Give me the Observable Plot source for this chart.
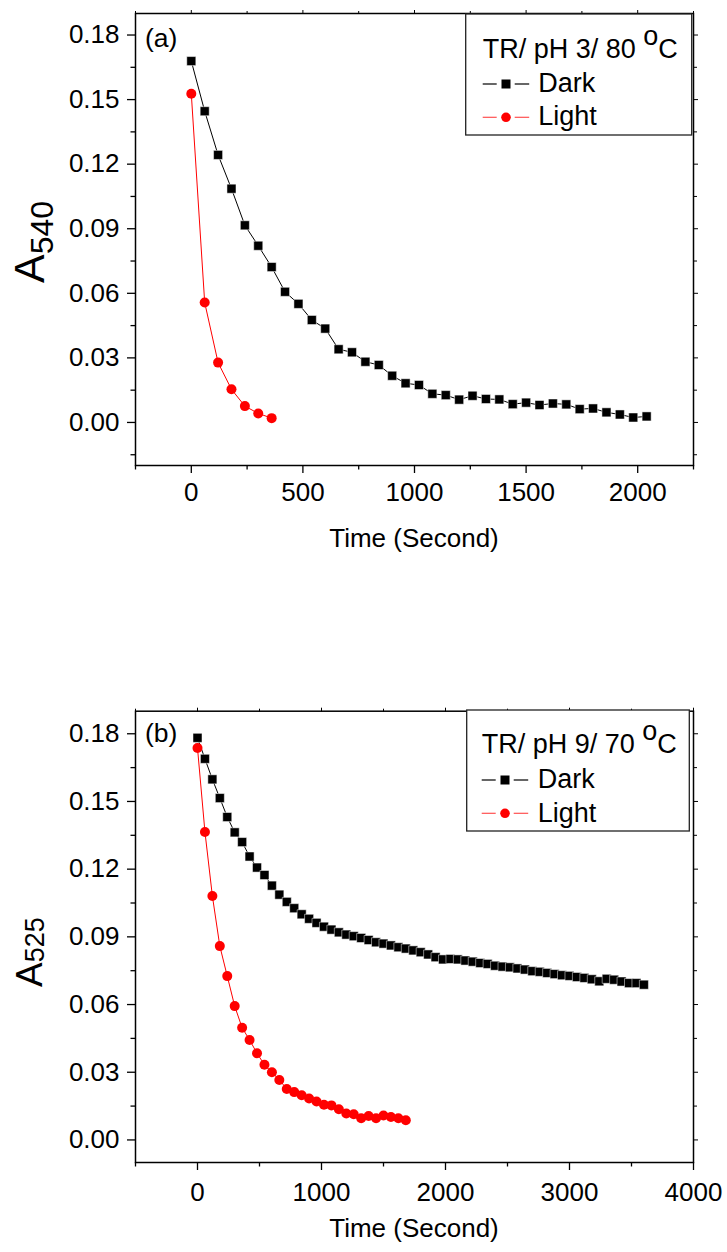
<!DOCTYPE html>
<html>
<head>
<meta charset="utf-8">
<script src="https://cdn.jsdelivr.net/npm/d3@7"></script>
<script src="https://cdn.jsdelivr.net/npm/@observablehq/plot@0.6"></script>
<style>
  html, body { margin: 0; padding: 0; background: #fff; }
  #wrap { width: 727px; height: 1252px; position: relative; }
  .panel svg { display: block; }
</style>
</head>
<body>
<div id="wrap">
  <div id="pa" class="panel"></div>
  <div id="pb" class="panel"></div>
</div>
<script>
// ---------------- Data ----------------
// Panel (a): TR / pH 3 / 80 °C, A540
const timeDarkA = [0,60,120,180,240,300,360,420,480,540,600,660,720,780,840,900,960,1020,1080,1140,1200,1260,1320,1380,1440,1500,1560,1620,1680,1740,1800,1860,1920,1980,2040];
const darkA = [0.1679,0.1446,0.1243,0.1086,0.0916,0.0821,0.0722,0.0607,0.0551,0.0476,0.0436,0.0340,0.0326,0.0282,0.0267,0.0217,0.0182,0.0174,0.0133,0.0127,0.0106,0.0124,0.0109,0.0107,0.0085,0.0092,0.0081,0.0088,0.0084,0.0062,0.0065,0.0047,0.0037,0.0023,0.0028];
const timeLightA = [0,60,120,180,240,300,360];
const lightA = [0.1527,0.0557,0.0278,0.0154,0.0076,0.0042,0.0020];

// Panel (b): TR / pH 9 / 70 °C, A525
const timeDarkB = [0,60,120,180,240,300,360,420,480,540,600,660,720,780,840,900,960,1020,1080,1140,1200,1260,1320,1380,1440,1500,1560,1620,1680,1740,1800,1860,1920,1980,2040,2100,2160,2220,2280,2340,2400,2460,2520,2580,2640,2700,2760,2820,2880,2940,3000,3060,3120,3180,3240,3300,3360,3420,3480,3540,3600];
const darkB = [0.1782,0.1689,0.1598,0.1515,0.1431,0.1363,0.1320,0.1256,0.1207,0.1174,0.1127,0.1087,0.1055,0.1027,0.1000,0.0980,0.0962,0.0945,0.0932,0.0920,0.0910,0.0903,0.0895,0.0886,0.0876,0.0870,0.0862,0.0854,0.0848,0.0840,0.0832,0.0822,0.0810,0.0800,0.0802,0.0800,0.0795,0.0790,0.0784,0.0780,0.0772,0.0768,0.0765,0.0760,0.0755,0.0748,0.0745,0.0740,0.0735,0.0730,0.0727,0.0722,0.0718,0.0712,0.0703,0.0714,0.0710,0.0702,0.0695,0.0695,0.0688];
const timeLightB = [0,60,120,180,240,300,360,420,480,540,600,660,720,780,840,900,960,1020,1080,1140,1200,1260,1320,1380,1440,1500,1560,1620,1680];
const lightB = [0.1737,0.1365,0.1081,0.0859,0.0726,0.0593,0.0497,0.0443,0.0384,0.0333,0.0300,0.0266,0.0226,0.0212,0.0198,0.0184,0.0170,0.0156,0.0153,0.0136,0.0117,0.0114,0.0096,0.0106,0.0096,0.0108,0.0102,0.0096,0.0087];

// Ticks
const yMajor = [0, 0.03, 0.06, 0.09, 0.12, 0.15, 0.18];
const yMinorA = [-0.015, 0.015, 0.045, 0.075, 0.105, 0.135, 0.165];
const yMinorB = [0.015, 0.045, 0.075, 0.105, 0.135, 0.165];
const xMajorA = [0, 500, 1000, 1500, 2000];
const xMinorA = [-250, 250, 750, 1250, 1750, 2250];
const xMajorB = [0, 1000, 2000, 3000, 4000];
const xMinorB = [-500, 500, 1500, 2500, 3500];

const seriesNames = ["Dark", "Light"];
const seriesColors = ["#000000", "#ff0000"];

const FONT = "Liberation Sans, Arial, Helvetica, sans-serif";

function rows(t, v, name) { return t.map((d, i) => ({ t: d, v: v[i], s: name })); }

function makePanel(cfg) {
  const dark = rows(cfg.tDark, cfg.dark, "Dark");
  const light = rows(cfg.tLight, cfg.light, "Light");
  const blank = () => "";
  const chart = Plot.plot({
    width: 727,
    height: cfg.height,
    marginLeft: 135,
    marginRight: 34,
    marginTop: cfg.marginTop,
    marginBottom: cfg.marginBottom,
    style: { fontFamily: FONT, fontSize: "26px", color: "#000", background: "#fff" },
    x: { domain: cfg.xDomain },
    y: { domain: cfg.yDomain },
    marks: [
      Plot.axisY(yMajor, { tickSize: 8, tickPadding: 8, tickFormat: d3.format(".2f"), label: null, strokeWidth: 1.3, fontSize: 26 }),
      Plot.axisY(cfg.yMinor, { tickSize: 4.5, tickFormat: blank, label: null, strokeWidth: 1.3 }),
      Plot.axisY(yMajor, { anchor: "right", tickSize: 4, tickFormat: blank, label: null, strokeWidth: 1 }),
      Plot.axisY(cfg.yMinor, { anchor: "right", tickSize: 3, tickFormat: blank, label: null, strokeWidth: 1 }),
      Plot.axisX(cfg.xMajor, { tickSize: 8, tickPadding: cfg.xPad, tickFormat: d3.format("d"), label: null, strokeWidth: 1.3, fontSize: 26 }),
      Plot.axisX(cfg.xMinor, { tickSize: 4.5, tickFormat: blank, label: null, strokeWidth: 1.3 }),
      Plot.axisX(cfg.xMajor, { anchor: "top", tickSize: 4, tickFormat: blank, label: null, strokeWidth: 1 }),
      Plot.axisX(cfg.xMinor, { anchor: "top", tickSize: 3, tickFormat: blank, label: null, strokeWidth: 1 }),
      Plot.frame({ stroke: "#000", strokeWidth: 1.5 }),
      Plot.line(dark, { x: "t", y: "v", stroke: seriesColors[0], strokeWidth: 1 }),
      Plot.line(light, { x: "t", y: "v", stroke: seriesColors[1], strokeWidth: 1 }),
      Plot.dot(dark, { x: "t", y: "v", symbol: "square", r: 5.1, fill: seriesColors[0], stroke: "#fff", strokeWidth: 0.5 }),
      Plot.dot(light, { x: "t", y: "v", symbol: "circle", r: 5, fill: seriesColors[1], stroke: "none" })
    ]
  });

  const svg = d3.select(chart);

  // Panel label
  svg.append("text").attr("x", 145).attr("y", cfg.panelLabelY)
    .attr("text-anchor", "start")
    .attr("font-family", FONT).attr("font-size", 26.5).attr("fill", "#000")
    .text(cfg.panelLabel);

  // X title
  svg.append("text").attr("x", 414).attr("y", cfg.xTitleY)
    .attr("text-anchor", "middle").attr("font-family", FONT).attr("font-size", 26).attr("fill", "#000")
    .text("Time (Second)");

  // Y title with subscript
  const yt = svg.append("text")
    .attr("transform", `translate(${cfg.yTitleX},${cfg.yTitleCY}) rotate(-90)`)
    .attr("text-anchor", "middle").attr("font-family", FONT).attr("fill", "#000");
  yt.append("tspan").attr("font-size", cfg.yTitleFont).text("A");
  yt.append("tspan").attr("font-size", cfg.ySubFont).attr("dy", cfg.ySubShift).text(cfg.ySub);

  // Legend
  const L = cfg.legend;
  const g = svg.append("g").attr("font-family", FONT).attr("font-size", 27).attr("fill", "#000")
    .attr("text-anchor", "start");
  g.append("rect").attr("x", L.x0).attr("y", L.y0).attr("width", L.x1 - L.x0).attr("height", L.y1 - L.y0)
    .attr("fill", "#fff").attr("stroke", "#222").attr("stroke-width", 1.3);
  const tt = g.append("text").attr("x", L.textX0).attr("y", L.titleY).attr("text-anchor", "start");
  tt.append("tspan").text(cfg.titleMain);
  tt.append("tspan").attr("dy", -13).text("o");
  tt.append("tspan").attr("dy", 13).text("C");
  seriesNames.forEach((name, i) => {
    const sy = L.symY[i];
    const col = seriesColors[i];
    const lc = i === 0 ? "#000" : "#ff5050";
    g.append("line").attr("x1", L.textX0).attr("x2", L.textX0 + 14).attr("y1", sy).attr("y2", sy)
      .attr("stroke", lc).attr("stroke-width", 1.2);
    g.append("line").attr("x1", L.textX0 + 32).attr("x2", L.textX0 + 46.5).attr("y1", sy).attr("y2", sy)
      .attr("stroke", lc).attr("stroke-width", 1.2);
    if (i === 0) {
      g.append("rect").attr("x", L.markX - 4.5).attr("y", sy - 4.5).attr("width", 9).attr("height", 9).attr("fill", col);
    } else {
      g.append("circle").attr("cx", L.markX).attr("cy", sy).attr("r", 4.8).attr("fill", col);
    }
    g.append("text").attr("x", L.labelX).attr("y", L.labelY[i]).attr("text-anchor", "start").text(name);
  });

  return chart;
}

const chartA = makePanel({
  height: 560, marginTop: 13, marginBottom: 95,
  xDomain: [-250, 2250], yDomain: [-0.02, 0.19],
  xMajor: xMajorA, xMinor: xMinorA, yMinor: yMinorA, xPad: 9,
  tDark: timeDarkA, dark: darkA, tLight: timeLightA, light: lightA,
  panelLabel: "(a)", panelLabelY: 47,
  xTitleY: 547,
  yTitleX: 44, yTitleCY: 242, yTitleFont: 43, ySubFont: 32, ySubShift: 9, ySub: "540",
  titleMain: "TR/ pH 3/ 80 ",
  legend: { x0: 465.7, x1: 691.7, y0: 14, y1: 135, textX0: 482.7, titleY: 58.3,
            symY: [84, 117.3], markX: 506, labelX: 538.3, labelY: [91.7, 125] }
});
document.getElementById("pa").appendChild(chartA);

const chartB = makePanel({
  height: 692, marginTop: 150.7, marginBottom: 90,
  xDomain: [-500, 4000], yDomain: [-0.01, 0.19],
  xMajor: xMajorB, xMinor: xMinorB, yMinor: yMinorB, xPad: 12,
  tDark: timeDarkB, dark: darkB, tLight: timeLightB, light: lightB,
  panelLabel: "(b)", panelLabelY: 182,
  xTitleY: 677,
  yTitleX: 42, yTitleCY: 392, yTitleFont: 37, ySubFont: 27, ySubShift: 2, ySub: "525",
  titleMain: "TR/ pH 9/ 70 ",
  legend: { x0: 466.7, x1: 689.3, y0: 150, y1: 271, textX0: 481.7, titleY: 193.3,
            symY: [220, 253.3], markX: 505, labelX: 537.7, labelY: [228.3, 261.7] }
});
document.getElementById("pb").appendChild(chartB);
</script>
</body>
</html>
